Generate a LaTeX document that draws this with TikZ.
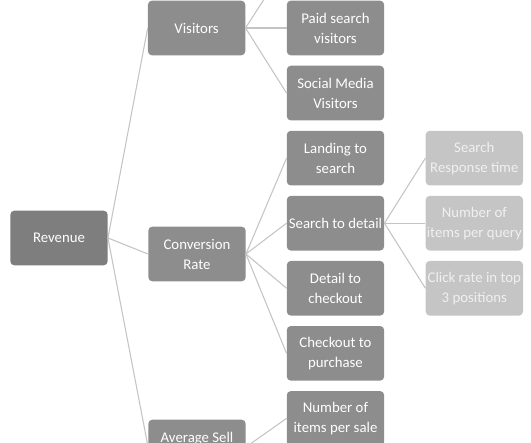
\documentclass[tikz,border=0pt]{standalone}
\usepackage{fontspec}
\setmainfont{Carlito}
\usepackage{tikz}
\usetikzlibrary{positioning}
\definecolor{rootgray}{RGB}{126,126,126}
\definecolor{midgray}{RGB}{141,141,141}
\definecolor{leafgray}{RGB}{197,197,197}
\definecolor{leaftext}{RGB}{240,240,240}
\definecolor{linkgray}{RGB}{196,196,196}

\begin{document}
\begin{tikzpicture}[
    x=1pt, y=1pt,
    node distance=7.4pt,              % gap between stacked boxes
    box/.style={rectangle, rounded corners=3pt, fill=midgray,
                text=white, minimum width=73pt, minimum height=41pt,
                inner sep=0pt, align=center,
                font=\fontsize{11.1}{15}\selectfont},
    root/.style={box, fill=rootgray},
    leaf/.style={box, fill=leafgray, text=leaftext},
    link/.style={draw=linkgray, line width=0.8pt}
]
\useasboundingbox (0,0) rectangle (398.25,-331.5);
\clip (0,0) rectangle (398.25,-331.5);

% third level
\node (paid)     [box] at (251.6,-21)      {Paid search\\visitors};
\node (social)   [box, below=of paid]      {Social Media\\Visitors};
\node (landing)  [box, below=of social]    {Landing to\\search};
\node (s2d)      [box, below=of landing]   {Search to detail};
\node (d2c)      [box, below=of s2d]       {Detail to\\checkout};
\node (c2p)      [box, below=of d2c]       {Checkout to\\purchase};
\node (persale)  [box, below=of c2p]       {Number of\\items per sale};

% fourth level
\node (resptime) [leaf, right=30.75pt of landing] {Search\\Response time};
\node (perquery) [leaf, below=of resptime]        {Number of\\items per query};
\node (clickrate)[leaf, below=of perquery]        {Click rate in top\\3 positions};

% second level
\node (visitors) [box, left=30.75pt of paid] {Visitors};
\node (conv)     [box] at (147.75,-190.5)     {Conversion\\Rate};
\node (avgsell)  [box] at (147.75,-335.25)    {Average Sell\\Price};

% root
\node (revenue)  [root] at (44.25,-178.5)     {Revenue};

\coordinate (offtop) at (215.25,27.4);

\draw [link] (revenue.east)  -- (visitors.west);
\draw [link] (revenue.east)  -- (conv.west);
\draw [link] (revenue.east)  -- (avgsell.west);
\draw [link] (visitors.east) -- (offtop);
\draw [link] (visitors.east) -- (paid.west);
\draw [link] (visitors.east) -- (social.west);
\draw [link] (conv.east)     -- (landing.west);
\draw [link] (conv.east)     -- (s2d.west);
\draw [link] (conv.east)     -- (d2c.west);
\draw [link] (conv.east)     -- (c2p.west);
\draw [link] (avgsell.east)  -- (persale.west);
\draw [link] (s2d.east)      -- (resptime.west);
\draw [link] (s2d.east)      -- (perquery.west);
\draw [link] (s2d.east)      -- (clickrate.west);
\end{tikzpicture}
\end{document}
